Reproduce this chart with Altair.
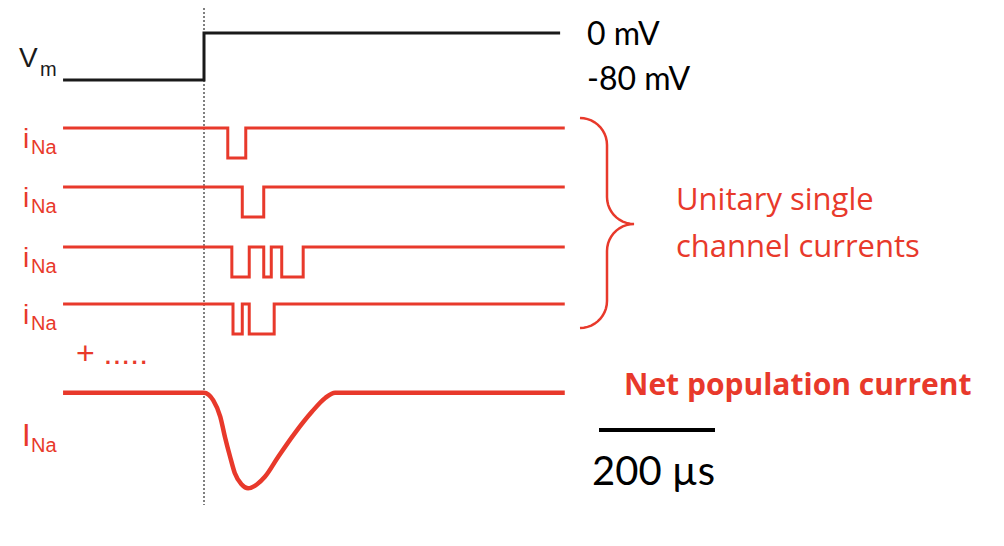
import altair as alt
import numpy as np
import pandas as pd

# ---------------- data (time in microseconds) ----------------
# Membrane voltage step
vm_time = [-243, 0, 0, 614]
vm_mV = [-80, -80, 0, 0]

# Unitary single-channel openings (open, close) in µs; amplitude = -1 unit
ch1_openings = [(41, 72)]
ch2_openings = [(66, 103)]
ch3_openings = [(48, 78), (103, 116), (134, 171)]
ch4_openings = [(50, 66), (78, 121)]
trace_start, trace_end = -243, 622

# Net population current (normalized)
net_time = [-243, 0, 16, 28, 36, 45, 53, 65, 76, 91, 105, 128, 157, 186, 209, 226, 622]
net_current = [0, 0, -0.08, -0.25, -0.46, -0.67, -0.84, -0.96, -1.0, -0.96, -0.88,
               -0.67, -0.42, -0.20, -0.055, 0, 0]

# Scale bar
scalebar_us = 200

RED = "#e8392b"
BLACK = "#1a1a1a"

# ---------------- layout helpers ----------------
PX_PER_US = 0.58
T0_PX = 196.0  # plot-x of t=0
W, H = 988, 530
XMIN = -T0_PX / PX_PER_US
XMAX = (W - T0_PX) / PX_PER_US


def px_to_t(px):
    return (px - 8 - T0_PX) / PX_PER_US


xs = alt.Scale(domain=[XMIN, XMAX], nice=False, zero=False)
ys = alt.Scale(domain=[0, H], reverse=True, nice=False, zero=False)

# Vm
vm_df = pd.DataFrame({
    "t": vm_time,
    "yp": [72 - (v + 80) * 47 / 80 for v in vm_mV],
    "i": range(len(vm_time)),
})

# unitary traces
rows = []
bases = [120, 179, 239, 296]
for k, (op, base) in enumerate(zip([ch1_openings, ch2_openings, ch3_openings, ch4_openings], bases)):
    pts = [(trace_start, 0)]
    for a, b in op:
        pts += [(a, 0), (a, -1), (b, -1), (b, 0)]
    pts.append((trace_end, 0))
    for j, (t, v) in enumerate(pts):
        rows.append({"trace": k, "i": j, "t": t, "yp": base - v * 30})
uni_df = pd.DataFrame(rows)

net_df = pd.DataFrame({
    "t": net_time,
    "yp": [384.7 - v * 95.6 for v in net_current],
})

# brace (page px geometry -> data)
r = 27
ph = np.linspace(0, np.pi / 2, 12)
bx, by = [], []
bx += list(580 + r * np.sin(ph)); by += list(145 - r * np.cos(ph))
bx += list(634 - r * np.cos(ph)); by += list(197 + r * np.sin(ph))
bx += list(634 - r * np.sin(ph)); by += list(251 - r * np.cos(ph))
bx += list(580 + r * np.cos(ph)); by += list(301 + r * np.sin(ph))
brace_df = pd.DataFrame({
    "t": [px_to_t(x) for x in bx],
    "yp": [y - 8 for y in by],
    "i": range(len(bx)),
})

sb_start = px_to_t(599)
sb_df = pd.DataFrame({"t": [sb_start], "t2": [sb_start + scalebar_us], "yp": [422]})
dot_df = pd.DataFrame({"t": [0], "y1": [0], "y2": [497]})

X = alt.X("t:Q", scale=xs, axis=None)
Y = alt.Y("yp:Q", scale=ys, axis=None)

vm_line = alt.Chart(vm_df).mark_line(color=BLACK, strokeWidth=3, strokeJoin="miter").encode(
    x=X, y=Y, order="i:Q")
uni_line = alt.Chart(uni_df).mark_line(color=RED, strokeWidth=3, strokeJoin="miter").encode(
    x=X, y=Y, detail="trace:N", order="i:Q")
net_line = alt.Chart(net_df).mark_line(color=RED, strokeWidth=4.5, interpolate="monotone").encode(
    x=X, y=Y)
brace = alt.Chart(brace_df).mark_line(color=RED, strokeWidth=2.5).encode(x=X, y=Y, order="i:Q")
scalebar = alt.Chart(sb_df).mark_rule(color="black", strokeWidth=4).encode(
    x=X, x2="t2:Q", y=Y)
dotted = alt.Chart(dot_df).mark_rule(color="black", strokeWidth=1, strokeDash=[2, 2]).encode(
    x=X, y=alt.Y("y1:Q", scale=ys, axis=None), y2="y2:Q")


def txt(label, px, py, size, color, font, weight="normal"):
    return alt.Chart(pd.DataFrame({"label": [label]})).mark_text(
        align="left", baseline="alphabetic", fontSize=size, color=color, font=font,
        fontWeight=weight).encode(text="label:N", x=alt.value(px - 8), y=alt.value(py - 8))


ARIAL = "Liberation Sans"
CAL = "Lato"
OPEN = "Open Sans"
texts = [
    txt("V", 19, 67, 28, BLACK, ARIAL),
    txt("m", 40, 76, 20, BLACK, ARIAL),
]
for b in [128, 187, 247, 304]:
    texts.append(txt("i", 23, b + 20, 28, RED, ARIAL))
    texts.append(txt("Na", 31, b + 26, 20, RED, ARIAL))
texts += [
    txt("+ .....", 76, 364, 32, RED, ARIAL),
    txt("I", 22, 446, 31, RED, ARIAL),
    txt("Na", 31, 452, 20, RED, ARIAL),
    txt("0 mV", 587, 45, 32, "black", CAL),
    txt("-80 mV", 587, 90, 32, "black", CAL),
    txt("Unitary single", 676, 210, 31, RED, OPEN, 500),
    txt("channel currents", 676, 257, 31, RED, OPEN, 500),
    txt("Net population current", 624, 395, 30, RED, OPEN, "bold"),
    txt("200 µs", 592, 485, 40, "black", CAL),
]

chart = alt.layer(dotted, vm_line, uni_line, net_line, brace, scalebar, *texts).properties(
    width=W, height=H, autosize=alt.AutoSizeParams(type="none"), padding=0
).configure_view(stroke=None)

chart.save("out.html", embed_options={"renderer": "svg", "actions": False})
